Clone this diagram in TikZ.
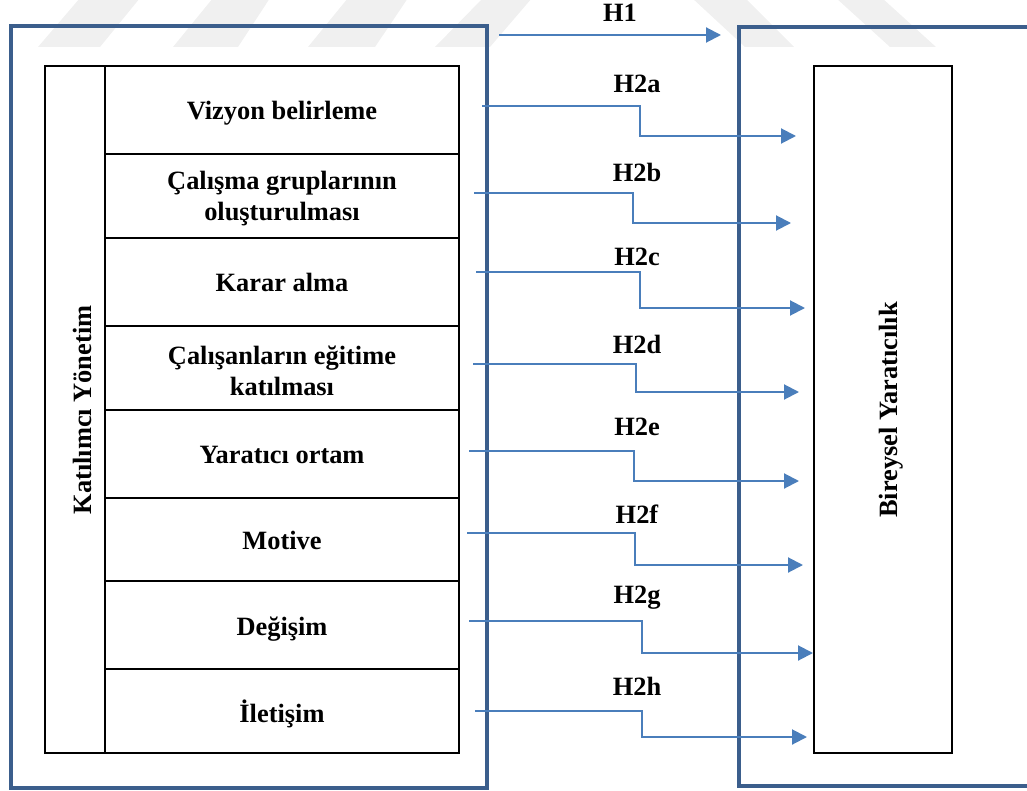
\documentclass[tikz,border=0pt]{standalone}
\usepackage{fontspec}
\setmainfont{Liberation Serif}
\usetikzlibrary{arrows.meta}
\definecolor{framebl}{HTML}{3B5E8C}
\definecolor{arrowbl}{HTML}{4A7EBB}

\begin{document}
\begin{tikzpicture}[x=0.5pt, y=-0.5pt,
    every node/.style={font=\fontsize{13.2}{15.5}\selectfont\bfseries, align=center, inner sep=0pt},
    frame/.style={draw=framebl, line width=2.4pt},
    cell/.style={draw=black, line width=1pt},
    hyp/.style={draw=arrowbl, line width=1pt, -{Triangle[length=7.5pt,width=7.5pt]}}]
    \clip (0,0) rectangle (1027,791);
    % faint watermark stripes
    \begin{scope}[fill=black!6]
        \fill (38,47) -- (100,47) -- (140,-2) -- (80,-2) -- cycle;
        \fill (173,47) -- (238,47) -- (270,-2) -- (213,-2) -- cycle;
        \fill (308,47) -- (375,47) -- (408,-2) -- (348,-2) -- cycle;
        \fill (435,47) -- (490,47) -- (532,-2) -- (483,-2) -- cycle;
        \fill (692,-2) -- (745,-2) -- (794,47) -- (745,47) -- cycle;
        \fill (836,-2) -- (882,-2) -- (936,47) -- (890,47) -- cycle;
    \end{scope}
    % outer frames
    \draw[frame] (11,26) rectangle (487,788);
    \draw[frame] (739,27) rectangle (1045,786);
    % left table
    \draw[cell] (45,66) rectangle (459,753);
    \draw[cell] (105,66) -- (105,753);
    \foreach \y in {154,238,326,410,498,581,669}
        \draw[cell] (105,\y) -- (459,\y);
    \node[rotate=90] (katilimci) at (82,410) {Katılımcı Yönetim};
    \node[anchor=base] (vizyon) at (282,120) {Vizyon belirleme};
    \node (calisma) at (282,199) {Çalışma gruplarının\\oluşturulması};
    \node[anchor=base] (karar) at (282,291) {Karar alma};
    \node (egitim) at (282,371) {Çalışanların eğitime\\katılması};
    \node[anchor=base] (ortam) at (282,463) {Yaratıcı ortam};
    \node[anchor=base] (motive) at (282,549) {Motive};
    \node[anchor=base] (degisim) at (282,635) {Değişim};
    \node[anchor=base] (iletisim) at (282,722) {İletişim};
    % right box
    \draw[cell] (814,66) rectangle (952,753);
    \node[rotate=90] (bireysel) at (891,410) {Bireysel Yaratıcılık};
    % hypotheses
    \coordinate (sH1) at (499,35);
    \coordinate (eH1) at (721,35);
    \draw[hyp] (sH1) -- (eH1);
    \node[anchor=base] (lH1) at (620,22) {H1};
    \foreach \lab/\xs/\ys/\xm/\ye/\xe/\yl in {
        H2a/482/106/640/136/796/93,
        H2b/474/193/633/223/791/182,
        H2c/476/272/640/308/805/265,
        H2d/473/364/636/392/799/353,
        H2e/469/451/634/481/799/435,
        H2f/467/533/635/565/803/523,
        H2g/469/621/642/653/813/603,
        H2h/475/711/642/737/807/695}{
        \coordinate (s\lab) at (\xs,\ys);
        \coordinate (e\lab) at (\xe,\ye);
        \draw[hyp] (s\lab) -| (\xm,\ye) -- (e\lab);
        \node[anchor=base] (l\lab) at (637,\yl) {\lab};
    }
\end{tikzpicture}
\end{document}
